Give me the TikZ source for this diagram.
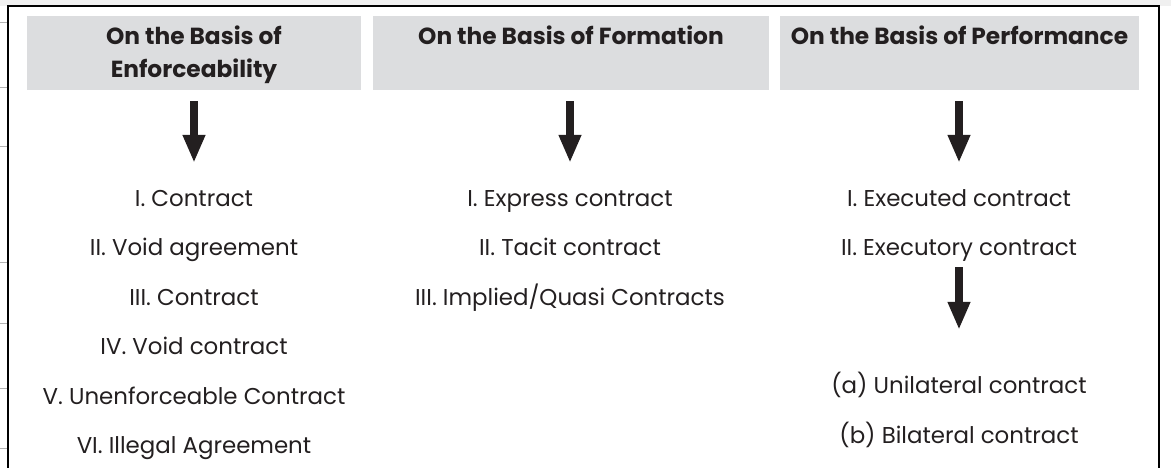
\documentclass[tikz,border=0pt]{standalone}
\usepackage{fontspec}
\setmainfont{Poppins}
\usetikzlibrary{arrows.meta}
\definecolor{ink}{RGB}{35,31,32}
\definecolor{hdrgray}{RGB}{220,221,223}
\tikzset{
  hdr/.style={rectangle, fill=hdrgray, draw=none, inner sep=0pt},
  htext/.style={anchor=base, inner sep=0pt, text=ink, font=\fontsize{23.3}{26}\selectfont\bfseries},
  item/.style={anchor=base, inner sep=0pt, text=ink, text height=17pt, text depth=5pt, font=\fontsize{22.9}{26}\selectfont},
  arr/.style={draw=ink, line width=7.5pt, -{Triangle[width=21pt,length=28pt]}},
  tick/.style={draw=gray!60, line width=0.6pt}
}
\begin{document}
\begin{tikzpicture}[x=1pt,y=-1pt]
\useasboundingbox (0,0) rectangle (1171,467);
\fill[gray!12] (0,0) rectangle (1171,6);
\foreach \yy in {22,87,146,262,323,388,448} \draw[tick] (0,\yy) -- (7,\yy);
\draw[black, line width=1.6pt] (8,470) -- (8,6) -- (1159,6) -- (1159,470);
% headers
\node[hdr, minimum width=334pt, minimum height=74pt] (h1) at (194,53) {};
\node[hdr, minimum width=396pt, minimum height=74pt] (h2) at (571,53) {};
\node[hdr, minimum width=359pt, minimum height=74pt] (h3) at (959.5,53) {};
\node[htext] (t1a) at (194,44) {On the Basis of};
\node[htext] (t1b) at (194,77) {Enforceability};
\node[htext] (t2) at (571,44) {On the Basis of Formation};
\node[htext] (t3) at (959.5,44) {On the Basis of Performance};
% column 1
\node[item] (a1) at (194,206) {I. Contract};
\node[item] (a2) at (194,255) {II. Void agreement};
\node[item] (a3) at (194,305) {III. Contract};
\node[item] (a4) at (194,354) {IV. Void contract};
\node[item] (a5) at (194,404) {V. Unenforceable Contract};
\node[item] (a6) at (194,453) {VI. Illegal Agreement};
% column 2
\node[item] (b1) at (570,206) {I. Express contract};
\node[item] (b2) at (570,255) {II. Tacit contract};
\node[item] (b3) at (570,305) {III. Implied/Quasi Contracts};
% column 3
\node[item] (c1) at (959,206) {I. Executed contract};
\node[item] (c2) at (959,255) {II. Executory contract};
\node[item] (c3) at (959,393) {(a) Unilateral contract};
\node[item] (c4) at (959,443) {(b) Bilateral contract};
% arrows
\draw[arr, shorten <=11pt, shorten >=26pt] (h1.south -| a1.north) -- (a1.north);
\draw[arr, shorten <=11pt, shorten >=26pt] (h2.south -| b1.north) -- (b1.north);
\draw[arr, shorten <=11pt, shorten >=26pt] (h3.south -| c1.north) -- (c1.north);
\draw[arr, shorten <=7pt, shorten >=46pt] (c2.south) -- (c3.north);
\end{tikzpicture}
\end{document}
